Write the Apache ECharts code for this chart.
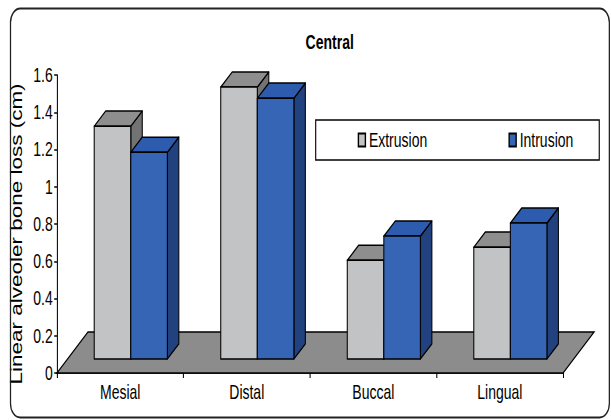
<!DOCTYPE html>
<html>
<head>
<meta charset="utf-8">
<script src="https://cdn.jsdelivr.net/npm/echarts@6/dist/echarts.min.js"></script>
<style>
  html, body { margin: 0; padding: 0; background: #fff; overflow: hidden; }
  #wrap { width: 611px; height: 420px; overflow: hidden; }
  /* the chart is laid out wide and squeezed horizontally, giving the narrow lettering */
  #chart { width: 873px; height: 420px; transform: scaleX(0.7); transform-origin: 0 0; }
</style>
</head>
<body>
<div id="wrap"><div id="chart"></div></div>
<script>
// Linear alveolar bone loss, central incisors
const categories = ['Mesial', 'Distal', 'Buccal', 'Lingual'];
const extrusion = [1.25, 1.46, 0.53, 0.60];
const intrusion = [1.11, 1.40, 0.66, 0.73];
const yTickLabels = ['0', '0.2', '0.4', '0.6', '0.8', '1', '1.2', '1.4', '1.6'];

const FONT = "'Liberation Sans', Arial, Helvetica, sans-serif";

// 3D look: floor depth as fractions of one category band,
// bar placement as fractions of that depth.
const FLOOR_DX = 0.245, FLOOR_DY = 0.227;
const BAR_FRONT = 0.34, BAR_DEPTH = 0.37;
const BAR_W = 0.289;

const faceColors = [
  { front: '#c2c3c4', top: '#8e8e8e', side: '#737373' },
  { front: '#3565b4', top: '#2d5cae', side: '#22417f' }
];
const EDGE = { stroke: '#000', lineWidth: 1.5, lineJoin: 'round' };

function barRenderer(side) {
  return function (params, api) {
    const idx = api.value(0);
    const v = api.value(1);
    const base = api.coord([idx, 0]);
    const top = api.coord([idx, v]);
    const band = api.size([1, 0])[0];
    const dx = band * FLOOR_DX * BAR_FRONT;
    const dy = -band * FLOOR_DY * BAR_FRONT;
    const ddx = band * FLOOR_DX * BAR_DEPTH;
    const ddy = -band * FLOOR_DY * BAR_DEPTH;
    const bw = band * BAR_W;
    const x0 = base[0] + dx + (side === 0 ? -bw : 0);
    const x1 = x0 + bw;
    const yb = base[1] + dy;
    const yt = top[1] + dy;
    const c = faceColors[side];
    return {
      type: 'group',
      children: [
        { type: 'polygon', shape: { points: [[x1, yb], [x1 + ddx, yb + ddy], [x1 + ddx, yt + ddy], [x1, yt]] },
          style: Object.assign({ fill: c.side }, EDGE) },
        { type: 'polygon', shape: { points: [[x0, yt], [x1, yt], [x1 + ddx, yt + ddy], [x0 + ddx, yt + ddy]] },
          style: Object.assign({ fill: c.top }, EDGE) },
        { type: 'polygon', shape: { points: [[x0, yb], [x1, yb], [x1, yt], [x0, yt]] },
          style: Object.assign({ fill: c.front }, EDGE) }
      ]
    };
  };
}

function floorRenderer(params, api) {
  const cs = params.coordSys;
  const band = cs.width / categories.length;
  const fx = band * FLOOR_DX, fy = -band * FLOOR_DY;
  const yf = cs.y + cs.height;
  return {
    type: 'polygon',
    shape: { points: [[cs.x, yf], [cs.x + cs.width, yf], [cs.x + cs.width + fx, yf + fy], [cs.x + fx, yf + fy]] },
    style: { fill: '#8c8c8c', stroke: '#000', lineWidth: 1.5 }
  };
}

const chart = echarts.init(document.getElementById('chart'), null, { renderer: 'svg' });
chart.setOption({
  animation: false,
  backgroundColor: '#fff',
  title: {
    text: 'Central',
    left: 466,
    top: 27,
    textAlign: 'center',
    textStyle: { fontFamily: FONT, fontSize: 20, fontWeight: 'bold', color: '#000' }
  },
  graphic: [{
    type: 'rect',
    shape: { x: 15, y: 8.5, width: 855.5, height: 409, r: 14 },
    style: { fill: 'none', stroke: '#222', lineWidth: 1.8 },
    z: 100
  }],
  legend: {
    data: ['Extrusion', 'Intrusion'],
    orient: 'horizontal',
    left: 451,
    top: 120,
    width: 600,
    icon: 'rect',
    itemWidth: 10,
    itemHeight: 13,
    itemGap: 116,
    padding: [10, 37, 10, 60],
    borderColor: '#000',
    borderWidth: 1.6,
    backgroundColor: '#fff',
    textStyle: { fontFamily: FONT, fontSize: 20, color: '#000' }
  },
  grid: { left: 81.4, right: 68.6, top: 75, bottom: 47, containLabel: false },
  xAxis: {
    type: 'category',
    data: categories,
    boundaryGap: true,
    axisLine: { show: true, lineStyle: { color: '#000', width: 1.5 } },
    axisTick: { show: true, length: 5, lineStyle: { color: '#000', width: 1.5 } },
    axisLabel: { fontFamily: FONT, fontSize: 20, color: '#000', margin: 9 },
    splitLine: { show: false }
  },
  yAxis: {
    type: 'value',
    min: 0,
    max: 1.6,
    interval: 0.2,
    name: 'Linear alveoler bone loss (cm)',
    nameLocation: 'middle',
    nameGap: 46,
    nameTextStyle: { fontFamily: FONT, fontSize: 22.5, color: '#000', padding: [0, 0, 0, -20] },
    axisLine: { show: true, lineStyle: { color: '#000', width: 1.5 } },
    axisTick: { show: true, length: 4, lineStyle: { color: '#000', width: 1.5 } },
    axisLabel: {
      fontFamily: FONT, fontSize: 20, color: '#000', margin: 6,
      formatter: function (val) { return yTickLabels[Math.round(val / 0.2)]; }
    },
    splitLine: { show: false }
  },
  series: [
    {
      type: 'custom',
      name: 'floor',
      renderItem: floorRenderer,
      data: [[0, 0]],
      silent: true
    },
    {
      type: 'custom',
      name: 'Extrusion',
      renderItem: barRenderer(0),
      itemStyle: { color: faceColors[0].front, borderColor: '#000', borderWidth: 1.5 },
      encode: { x: 0, y: 1 },
      data: extrusion.map((v, i) => [i, v])
    },
    {
      type: 'custom',
      name: 'Intrusion',
      renderItem: barRenderer(1),
      itemStyle: { color: faceColors[1].front, borderColor: '#000', borderWidth: 1.5 },
      encode: { x: 0, y: 1 },
      data: intrusion.map((v, i) => [i, v])
    }
  ]
});
</script>
</body>
</html>
